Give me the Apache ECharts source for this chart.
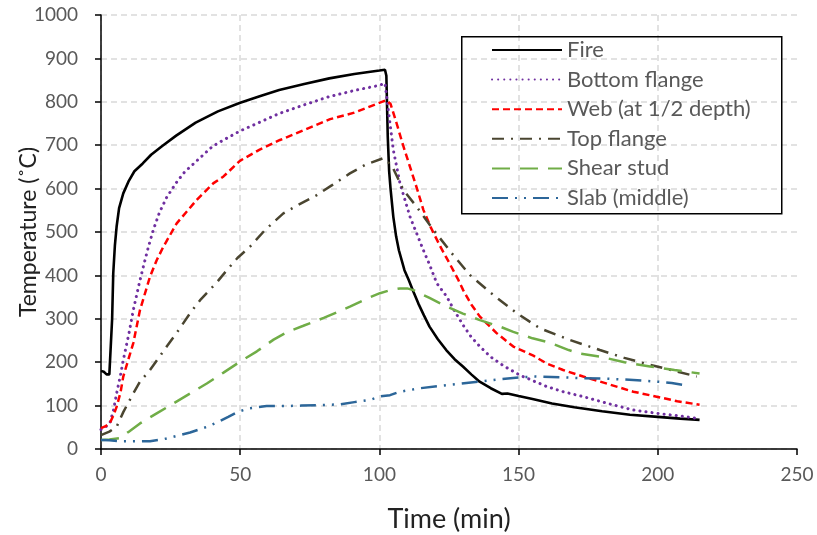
<!DOCTYPE html>
<html>
<head>
<meta charset="utf-8">
<script src="https://cdn.jsdelivr.net/npm/echarts@6/dist/echarts.min.js"></script>
<style>
html,body{margin:0;padding:0;background:#fff;}
#chart{width:817px;height:535px;}
</style>
</head>
<body>
<div id="chart"></div>
<script>
// Series names (legend order)
const seriesNames = ["Fire", "Bottom flange", "Web (at 1/2 depth)", "Top flange", "Shear stud", "Slab (middle)"];

// Axis settings (ticks)
const xTicks = [0, 50, 100, 150, 200, 250];
const yTicks = [0, 100, 200, 300, 400, 500, 600, 700, 800, 900, 1000];

// [time (min), temperature (°C)]
const fire = [[0,180],[1,178],[2,172],[3,172],[3.6,176],[4.0,300],[4.4,405],[5,470],[5.6,512],[6.5,555],[8,589],[10,618],[12,640],[15,658],[18,678],[22,698],[27,722],[34,752],[42,778],[50,798],[57,813],[64,827],[73,841],[82,854],[91,864],[100,872],[102,874],[102.5,860],[103,720],[103.5,640],[104,600],[105,535],[106,490],[107,458],[109,412],[110.5,390],[112,366],[114,335],[116,308],[118,282],[121,253],[124,228],[127,207],[130,190],[133,172],[136,155],[140,140],[144,127],[146,128],[150,122],[155,115],[162,105],[170,96],[180,87],[190,79],[200,74],[208,70],[215,67]];

const bottomFlange = [[0,45],[1.5,50],[3.2,60],[4.5,90],[5.6,128],[7,170],[8,205],[10,265],[11.6,320],[13.5,375],[15.2,420],[17,465],[18.8,505],[21,545],[23.6,580],[27.2,615],[30,638],[34.4,664],[40,697],[44,712],[50,733],[57,753],[64,773],[73,793],[82,812],[91,826],[100,838],[102,843],[103.2,781],[105,689],[107.4,612],[111,535],[115.8,458],[118,425],[120.6,382],[124.2,351],[127,318],[130.1,285],[133,258],[136.1,236],[140,212],[144.5,192],[150.5,170],[155.3,157],[160.1,144],[166,132],[173,121],[182,105],[191,90],[200,82],[208,76],[215,70]];

const web = [[0,48],[1.5,52],[3.2,60],[4.5,78],[5.6,97],[7,130],[8,167],[10,210],[11.6,244],[14,320],[17.6,397],[20,435],[22.4,466],[27.2,520],[34.4,574],[40.3,612],[44,628],[49.9,664],[57,690],[64.3,712],[73,735],[82.3,760],[91,775],[97,790],[102.6,804],[104,795],[106.2,750],[108.5,700],[111,650],[113.5,600],[115.8,551],[118.5,510],[122,465],[125,430],[128.4,389],[130.1,366],[133,333],[136.1,305],[142.1,267],[148.1,236],[155.3,215],[160.1,197],[166,182],[173.2,167],[182,150],[191.2,132],[200,120],[207,110],[215,102]];

const topFlange = [[0,32],[3,40],[5.6,51],[8,85],[11.6,128],[14,155],[17.6,182],[23.6,236],[28,275],[32,313],[35.6,343],[41.6,384],[45.2,412],[49,440],[53.5,466],[59,505],[65.5,543],[71,563],[77.5,585],[83,608],[89.4,635],[95,655],[101.4,670],[104.4,654],[108.6,597],[113.4,558],[119.4,505],[126,451],[132.5,401],[140.9,355],[149.3,313],[157.7,278],[168.5,251],[179.2,228],[188,210],[197.2,194],[206,180],[214,167]];

const shearStud = [[0,21],[3,22],[6.8,25],[10,40],[14,59],[20,82],[26,105],[32,128],[38,151],[44,176],[49.9,201],[56,225],[62,252],[67,270],[72.7,284],[80,302],[89.4,328],[96,348],[100.2,359],[103.8,366],[107.4,370],[110,370],[112.2,366],[118,348],[124.2,328],[130,312],[136.1,297],[143.3,282],[148.1,270],[155,255],[161.3,245],[168,228],[172,220],[179.2,213],[188,200],[197.2,190],[206,182],[215,174]];

const slab = [[0,21],[3,20],[6.8,18],[12,18],[17.6,18],[22,22],[26,28],[32,38],[38,51],[42,62],[45.7,74],[49.3,86],[53.5,94],[59.5,99],[66.7,99],[72,100],[78.7,101],[85.8,103],[91,108],[96.6,113],[100.2,121],[103.8,124],[107.4,132],[114.6,140],[124.2,147],[133.7,154],[142.1,160],[150.5,165],[155.3,167],[166,165],[173.2,163],[182,162],[191.2,159],[200,155],[205,152],[210,147]];

const FONT = 'Lato, "Open Sans", sans-serif';
const chart = echarts.init(document.getElementById('chart'), null, {renderer: 'canvas'});

function mk(name, data, color, width, type, cap) {
  return {
    name: name, type: 'line', data: data, symbol: 'none', showSymbol: false,
    smooth: false,
    lineStyle: {color: color, width: width, type: type, cap: cap || 'butt'},
    itemStyle: {color: color},
    emphasis: {disabled: true}, animation: false, z: 3
  };
}

const option = {
  animation: false,
  backgroundColor: '#fff',
  grid: {left: 101, right: 20, top: 15, bottom: 86, containLabel: false, outerBoundsMode: 'none'},
  graphic: [{
    type: 'rect', left: 461, top: 36, z: 10,
    shape: {width: 320, height: 177},
    style: {fill: 'rgba(255,255,255,0)', stroke: '#000', lineWidth: 1.5}
  }],
  legend: {
    orient: 'vertical', left: 491, top: 39, padding: 0,
    itemWidth: 70, itemHeight: 22, itemGap: 7.6,
    itemStyle: {opacity: 0},
    textStyle: {fontFamily: FONT, fontSize: 22, color: '#595959', lineHeight: 22},
    data: seriesNames, selectedMode: false, z: 11
  },
  xAxis: {
    type: 'value', min: xTicks[0], max: xTicks[xTicks.length - 1], interval: 50,
    name: 'Time (min)', nameLocation: 'middle', nameGap: 57, nameMoveOverlap: false,
    nameTextStyle: {fontFamily: FONT, fontSize: 27, color: '#222'},
    axisLine: {show: true, onZero: false, lineStyle: {color: '#000', width: 1.5}},
    axisTick: {show: true, inside: false, length: 6, lineStyle: {color: '#000', width: 1.5}},
    axisLabel: {fontFamily: FONT, fontSize: 19, color: '#595959', margin: 16,
      formatter: function (v) { return String(v); }},
    splitLine: {show: true, showMaxLine: false, lineStyle: {color: '#D9D9D9', width: 1.5, type: [6, 4]}}
  },
  yAxis: {
    type: 'value', min: yTicks[0], max: yTicks[yTicks.length - 1], interval: 100,
    name: 'Temperature (˚C)', nameLocation: 'middle', nameGap: 61, nameMoveOverlap: false,
    nameTextStyle: {fontFamily: FONT, fontSize: 23, color: '#222'},
    axisLine: {show: true, lineStyle: {color: '#000', width: 1.5}},
    axisTick: {show: true, inside: false, length: 6, lineStyle: {color: '#000', width: 1.5}},
    axisLabel: {fontFamily: FONT, fontSize: 19, color: '#595959', margin: 23,
      formatter: function (v) { return String(v); }},
    splitLine: {show: true, lineStyle: {color: '#D9D9D9', width: 1.5, type: [6, 4]}}
  },
  series: [
    mk(seriesNames[0], fire, '#000000', 2.6, 'solid'),
    mk(seriesNames[1], bottomFlange, '#7030A0', 3, [0.1, 6], 'round'),
    mk(seriesNames[2], web, '#FF0000', 2.5, [7, 4]),
    mk(seriesNames[3], topFlange, '#4A4530', 2.5, [12, 7, 2, 7]),
    mk(seriesNames[4], shearStud, '#70AD47', 2.5, [18, 10]),
    mk(seriesNames[5], slab, '#2C6699', 2.5, [16, 7, 2, 7, 2, 7])
  ]
};
chart.setOption(option);
</script>
</body>
</html>
